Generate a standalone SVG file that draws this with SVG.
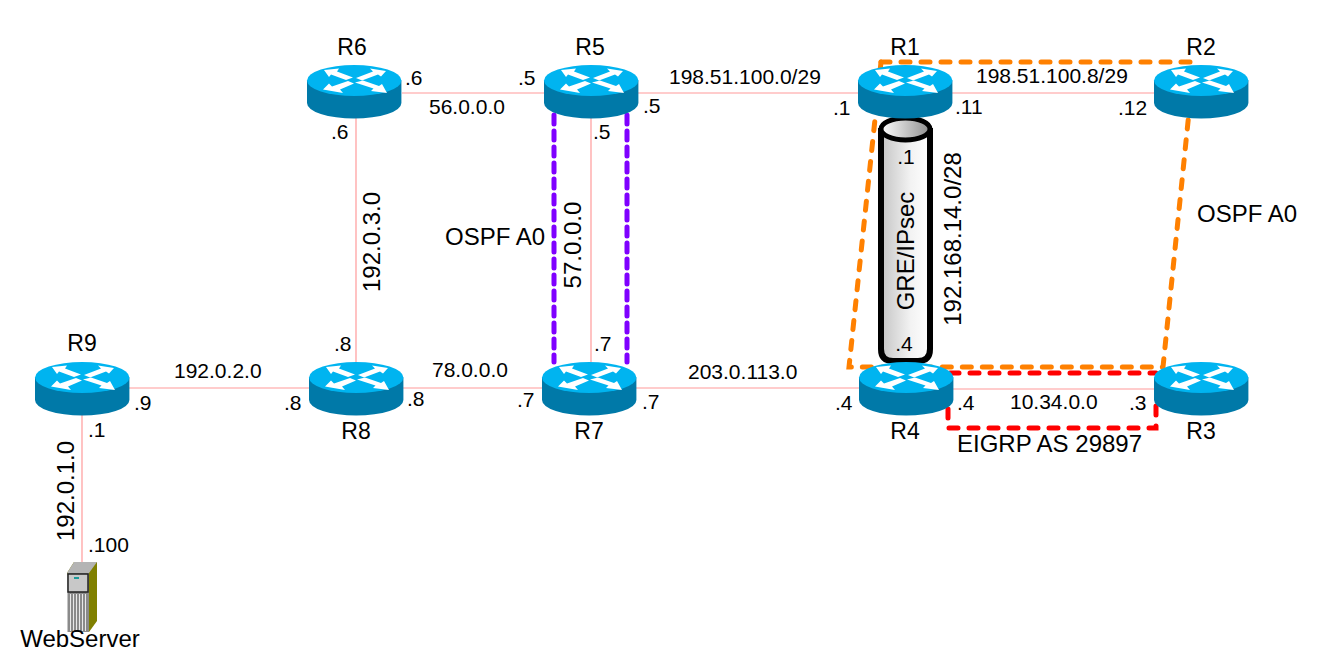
<svg xmlns="http://www.w3.org/2000/svg" width="1342" height="669" viewBox="0 0 1342 669">
<style>
text{font-family:"Liberation Sans",Arial,sans-serif;font-size:24px;fill:#000}
.s{font-size:21px}
.n{font-size:23px}
.c{text-anchor:middle}
.l{fill:none;stroke:#ff9a9a;stroke-width:1.2}
.o{fill:none;stroke:#ff8000;stroke-width:5;stroke-dasharray:9 11;stroke-linecap:round}
.p{fill:none;stroke:#7f00ff;stroke-width:5;stroke-dasharray:9 7;stroke-linecap:round}
.r{fill:none;stroke:#ff0000;stroke-width:5;stroke-dasharray:9 11;stroke-linecap:round}
</style>
<defs>
<linearGradient id="cyl" x1="0" x2="1" y1="0" y2="0"><stop offset="0" stop-color="#c4c4c4"/><stop offset="0.6" stop-color="#f2f2f2"/><stop offset="1" stop-color="#ffffff"/></linearGradient>
<linearGradient id="cyltop" x1="0" x2="1" y1="0" y2="0"><stop offset="0" stop-color="#ffffff"/><stop offset="1" stop-color="#8f8f8f"/></linearGradient>
<g id="router">
<path d="M0 15.5V38A47.200 15.500 0 0 0 94.400 38V15.500Z" fill="#0079a8"/>
<ellipse cx="47.200" cy="15.500" rx="47.200" ry="15.500" fill="#00b4f0"/>
<g fill="#fff">
<path d="M17 5L32 3.500L30 6.500L46 12.500L39 15L24 9.500L22 12Z"/>
<path d="M79 6L63 3.500L66 6.500L49 13L55 15.500L71 9.500L74 11.500Z"/>
<path d="M16 24.500L36 28L33 24.500L47 18.500L41 16L25 21.500L22 18.500Z"/>
<path d="M80 28L64 26L66.500 23.500L48 17.500L56 15.500L72 21L75 19Z"/>
</g>
</g>
</defs>
<g id="connectors">
<path class="l" d="M402 93H544"/>
<path class="l" d="M638 93H858"/>
<path class="l" d="M952 93H1154"/>
<path class="l" d="M356 118V362"/>
<path class="l" d="M591 118V362"/>
<path class="l" d="M129 388H309"/>
<path class="l" d="M403 388H542"/>
<path class="l" d="M636 388H859"/>
<path class="l" d="M953 389H1154"/>
<path class="l" d="M82 412V566"/>
<path class="o" d="M881 62H1196"/>
<path class="o" d="M881 62L849 367H1163L1189 112"/>
<path class="p" d="M554 115V362"/>
<path class="p" d="M627 115V362"/>
<path class="r" d="M950 373H1156"/>
<path class="r" d="M948 409V428H1156V405"/>
</g>
<g id="tunnel">
<path d="M881 131V349Q881 361 893 361H918Q930 361 930 349V131Z" fill="url(#cyl)" stroke="#000" stroke-width="6"/>
<ellipse cx="905.500" cy="129" rx="24.500" ry="11" fill="url(#cyltop)" stroke="#000" stroke-width="5"/>
<text x="906" y="164" class="s c">.1</text>
<text x="904" y="351" class="s c">.4</text>
<text class="c" transform="translate(914 251) rotate(-90)">GRE/IPsec</text>
</g>
<g id="R6"><use href="#router" x="307" y="65"/><text x="352" y="55" class="n c">R6</text></g>
<g id="R5"><use href="#router" x="544" y="65"/><text x="590" y="55" class="n c">R5</text></g>
<g id="R1"><use href="#router" x="858" y="65"/><text x="905" y="55" class="n c">R1</text></g>
<g id="R2"><use href="#router" x="1154" y="65"/><text x="1201" y="55" class="n c">R2</text></g>
<g id="R9"><use href="#router" x="35" y="362"/><text x="82" y="351" class="n c">R9</text></g>
<g id="R8"><use href="#router" x="309" y="362"/><text x="356" y="439" class="n c">R8</text></g>
<g id="R7"><use href="#router" x="542" y="362"/><text x="589" y="439" class="n c">R7</text></g>
<g id="R4"><use href="#router" x="859" y="362"/><text x="905" y="439" class="n c">R4</text></g>
<g id="R3"><use href="#router" x="1154" y="362"/><text x="1201" y="439" class="n c">R3</text></g>
<g id="WebServer">
<path d="M67 573L74 562H97V621L89 632Z" fill="#808000"/>
<path d="M67 573L74 562H97L89 573Z" fill="#b4b4b4"/>
<rect x="67.500" y="573" width="21.500" height="59" fill="#8a8a8a"/>
<rect x="68" y="574" width="20" height="18" fill="#c8c8c8" stroke="#222" stroke-width="1.500"/>
<rect x="74" y="577" width="5" height="2" fill="#1b9a9a"/>
<path d="M70.500 594V631M73.500 594V631M76.500 594V631M79.500 594V631M82.500 594V631M85.500 594V631" stroke="#e8e8e8" stroke-width="1"/>
<text x="80" y="647" class="c">WebServer</text>
</g>
<g id="labels">
<text x="405" y="85" class="s">.6</text>
<text x="518" y="85" class="s">.5</text>
<text x="429" y="114" class="s">56.0.0.0</text>
<text x="643" y="113" class="s">.5</text>
<text x="669" y="84" class="s">198.51.100.0/29</text>
<text x="833" y="115" class="s">.1</text>
<text x="955" y="114" class="s">.11</text>
<text x="976" y="83" class="s">198.51.100.8/29</text>
<text x="1118" y="115" class="s">.12</text>
<text x="331" y="139" class="s">.6</text>
<text x="593" y="139" class="s">.5</text>
<text class="c" transform="translate(380 242) rotate(-90)">192.0.3.0</text>
<text class="c" transform="translate(581 245) rotate(-90)">57.0.0.0</text>
<text class="c" transform="translate(961 239) rotate(-90)">192.168.14.0/28</text>
<text x="445" y="245">OSPF A0</text>
<text x="1197" y="222">OSPF A0</text>
<text x="334" y="351" class="s">.8</text>
<text x="594" y="351" class="s">.7</text>
<text x="174" y="378" class="s">192.0.2.0</text>
<text x="432" y="377" class="s">78.0.0.0</text>
<text x="688" y="379" class="s">203.0.113.0</text>
<text x="134" y="410" class="s">.9</text>
<text x="284" y="410" class="s">.8</text>
<text x="407" y="406" class="s">.8</text>
<text x="517" y="407" class="s">.7</text>
<text x="642" y="409" class="s">.7</text>
<text x="835" y="410" class="s">.4</text>
<text x="957" y="410" class="s">.4</text>
<text x="1010" y="409" class="s">10.34.0.0</text>
<text x="1129" y="410" class="s">.3</text>
<text x="957" y="452">EIGRP AS 29897</text>
<text x="88" y="437" class="s">.1</text>
<text x="88" y="552" class="s">.100</text>
<text class="c" transform="translate(74 491) rotate(-90)">192.0.1.0</text>
</g>
</svg>
